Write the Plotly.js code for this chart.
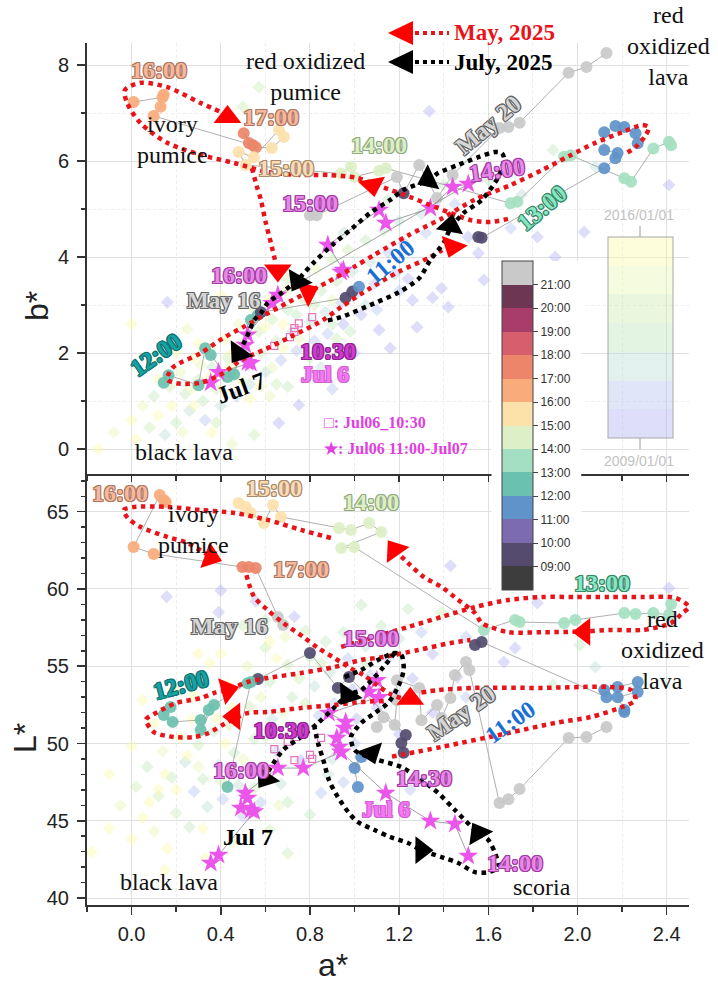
<!DOCTYPE html>
<html>
<head>
<meta charset="utf-8">
<script src="https://cdn.plot.ly/plotly-3.0.1.min.js"></script>
<style>
  html, body { margin: 0; padding: 0; background: #fff; }
  #chart { width: 718px; height: 986px; }
</style>
</head>
<body>
<div id="chart"></div>
<script>
// ---------- colour keys ----------
// hour-of-day bins 08:00 ... 22:00 (one colour per hour)
const hourColors = ['#3d3d3d','#544b6f','#7c6caf','#5f93c9','#6cc0af','#a5dfc1','#ddefc7',
                    '#fde1ab','#f9ab7b','#ec8569','#d65f6d','#a93d6a','#6d3653','#c9c9c9'];
const hourTicks  = [9,10,11,12,13,14,15,16,17,18,19,20,21];
const hourLabels = ['09:00','10:00','11:00','12:00','13:00','14:00','15:00','16:00','17:00','18:00','19:00','20:00','21:00'];
// archive survey dates 2009 ... 2016
const dateColors = ['rgba(182,182,246,0.45)','rgba(178,196,240,0.42)','rgba(186,222,214,0.42)',
                    'rgba(192,230,188,0.42)','rgba(206,236,178,0.42)','rgba(232,246,178,0.42)',
                    'rgba(250,250,172,0.42)'];

// ---------- archive measurements 2009-2016: [a*, b* or L*, decimal year] ----------
const archiveTop = [
 [-0.15,0.0,2015.5],[-0.08,0.35,2014.5],[0.0,0.6,2015.5],[0.02,0.2,2016.5],[0.05,0.9,2014.5],[0.08,0.45,2013.5],
 [0.1,1.1,2012.5],[0.12,0.7,2015.5],[0.15,0.3,2011.5],[0.17,1.3,2013.5],[0.18,0.9,2016.5],[0.2,0.55,2012.5],
 [0.22,1.6,2014.5],[0.24,1.15,2012.5],[0.26,0.8,2011.5],[0.28,1.9,2015.5],[0.3,1.45,2013.5],[0.32,1.0,2012.5],
 [0.33,0.6,2010.5],[0.35,2.1,2014.5],[0.36,1.7,2012.5],[0.38,1.25,2013.5],[0.4,0.9,2011.5],[0.42,2.3,2015.5],
 [0.43,1.9,2013.5],[0.45,1.5,2012.5],[0.47,1.1,2010.5],[0.48,2.6,2014.5],[0.5,2.2,2013.5],[0.52,1.75,2012.5],
 [0.53,1.35,2011.5],[0.55,2.9,2014.5],[0.57,2.45,2013.5],[0.58,2.0,2012.5],[0.6,1.6,2011.5],[0.62,3.1,2015.5],
 [0.63,2.7,2013.5],[0.65,2.25,2012.5],[0.66,0.54,2009.5],[0.67,1.85,2010.5],[0.69,3.3,2014.5],[0.7,2.9,2012.5],
 [0.72,2.45,2011.5],[0.74,2.05,2010.5],[0.75,0.92,2009.5],[0.76,3.5,2013.5],[0.78,3.1,2012.5],[0.8,2.65,2011.5],
 [0.82,2.25,2010.5],[0.83,3.75,2014.5],[0.85,3.3,2012.5],[0.87,2.85,2011.5],[0.88,2.4,2010.5],[0.9,3.95,2013.5],
 [0.92,3.5,2012.5],[0.94,3.05,2010.5],[0.95,2.6,2009.5],[0.97,4.15,2013.5],[0.99,3.7,2011.5],[1.01,3.25,2010.5],
 [1.03,2.8,2009.5],[1.05,4.35,2012.5],[1.07,3.9,2011.5],[1.09,3.45,2010.5],[1.11,2.48,2009.5],[1.13,4.55,2012.5],
 [1.15,4.1,2010.5],[1.16,2.1,2009.5],[1.18,3.65,2010.5],[1.2,4.75,2011.5],[1.22,4.3,2010.5],[1.26,3.1,2009.5],
 [1.28,2.54,2009.5],[1.3,4.9,2011.5],[1.32,4.5,2010.5],[1.35,3.15,2009.5],[1.39,3.35,2009.5],[1.42,2.96,2009.5],
 [1.45,5.1,2010.5],[1.51,4.42,2009.5],[1.555,4.08,2009.5],[1.58,3.52,2009.5],[1.82,4.42,2009.5],[2.03,4.52,2009.5],
 [1.335,7.04,2009.5],[2.41,5.5,2009.5],[1.89,6.23,2012.5],[2.08,5.88,2011.5],[1.6,5.6,2012.5],[1.75,5.3,2011.5],
 [0.16,3.06,2009.5],[0.0,2.6,2016.5],[0.3,2.2,2016.5],[0.1,1.8,2015.5],[0.55,0.3,2013.5],[0.45,0.1,2014.5],
 [0.7,1.3,2012.5],[0.85,1.7,2011.5],[1.0,2.0,2010.5],[0.57,7.54,2013.5],[0.5,7.13,2013.5],[0.82,4.9,2010.5],
 [0.95,4.5,2011.5],[1.4,5.5,2012.5],[1.7,4.6,2010.5],[1.9,4.0,2009.5],[0.9,1.25,2010.5],[0.4,3.2,2015.5],
 [0.25,2.5,2014.5],[1.15,5.2,2012.5],[0.62,1.1,2014.5],[0.36,0.35,2016.5],[0.9,3.1,2014.5],[0.68,2.6,2015.5],
 [0.27,1.25,2015.5],[0.35,1.5,2016.5],[0.44,1.7,2015.5],[0.5,1.4,2014.5],[0.58,1.3,2016.5],[0.63,1.7,2014.5],
 [0.68,2.1,2015.5],[0.75,2.3,2014.5],[0.8,1.9,2013.5],[0.86,2.05,2012.5],[0.92,2.3,2013.5],[0.98,2.45,2012.5],
 [0.6,2.55,2016.5],[0.45,2.0,2016.5],[0.38,0.55,2013.5],[0.23,0.35,2014.5],[0.12,1.45,2016.5],[0.2,2.0,2015.5],
 [0.7,3.55,2013.5],[0.82,3.0,2013.5],[1.05,3.0,2011.5],[1.1,2.9,2010.5],[0.9,2.6,2012.5],[0.65,1.35,2013.5],
 [0.53,1.05,2015.5],[0.31,1.75,2014.5],[0.28,0.9,2016.5],[0.74,2.8,2012.5],[1.2,3.3,2010.5],[1.24,3.55,2009.5]
];
const archiveBottom = [
 [-0.18,43.0,2016.5],[-0.1,44.5,2015.5],[-0.05,46.0,2014.5],[0.0,43.8,2016.5],[0.02,47.2,2013.5],[0.05,45.2,2015.5],
 [0.07,48.5,2012.5],[0.1,44.3,2014.5],[0.12,46.6,2013.5],[0.14,49.5,2014.5],[0.16,43.2,2015.5],[0.18,47.8,2012.5],
 [0.2,45.5,2013.5],[0.22,50.4,2015.5],[0.24,48.8,2011.5],[0.26,44.6,2012.5],[0.28,46.9,2010.5],[0.3,49.9,2013.5],
 [0.32,47.7,2012.5],[0.34,45.9,2011.5],[0.36,52.5,2014.5],[0.37,50.8,2012.5],[0.39,48.6,2011.5],[0.41,46.4,2010.5],
 [0.43,53.8,2015.5],[0.44,51.2,2013.5],[0.46,49.4,2012.5],[0.48,47.3,2011.5],[0.5,45.3,2010.5],[0.52,55.0,2014.5],
 [0.53,52.4,2013.5],[0.55,50.3,2012.5],[0.57,48.2,2011.5],[0.58,46.2,2010.5],[0.6,56.2,2013.5],[0.62,54.0,2012.5],
 [0.63,51.6,2011.5],[0.65,49.5,2010.5],[0.67,47.4,2011.5],[0.69,56.9,2014.5],[0.7,55.1,2013.5],[0.72,53.0,2012.5],
 [0.74,50.9,2010.5],[0.76,48.9,2009.5],[0.78,57.3,2013.5],[0.8,55.6,2012.5],[0.82,53.7,2011.5],[0.84,51.8,2010.5],
 [0.85,46.8,2010.5],[0.87,56.6,2012.5],[0.89,54.6,2011.5],[0.91,52.6,2010.5],[0.93,50.5,2009.5],[0.95,57.2,2012.5],
 [0.97,55.5,2010.5],[0.99,53.5,2009.5],[1.01,51.6,2009.5],[1.03,58.96,2012.5],[1.05,56.3,2011.5],[1.07,54.4,2010.5],
 [1.1,52.3,2009.5],[1.12,57.6,2012.5],[1.15,55.5,2010.5],[1.18,53.2,2009.5],[1.2,56.8,2011.5],[1.24,58.7,2012.5],
 [1.26,54.2,2009.5],[1.3,57.2,2010.5],[1.35,55.8,2009.5],[1.39,58.5,2013.5],[1.43,61.5,2009.5],[1.46,54.3,2009.5],
 [1.5,56.9,2010.5],[1.67,55.27,2009.5],[1.72,56.18,2009.5],[1.82,59.1,2009.5],[2.01,56.38,2012.5],[2.08,54.95,2011.5],
 [1.89,53.79,2012.5],[2.41,60.07,2009.5],[0.157,59.5,2009.5],[0.4,59.9,2009.5],[0.39,58.5,2009.5],[0.557,59.2,2009.5],
 [0.73,58.2,2009.5],[0.6,58.0,2012.5],[0.5,57.6,2013.5],[0.3,55.8,2015.5],[0.2,53.4,2016.5],[0.1,51.3,2015.5],
 [0.0,49.8,2016.5],[-0.1,48.0,2016.5],[0.45,43.6,2014.5],[0.62,44.4,2013.5],[0.8,45.4,2012.5],[0.95,47.5,2010.5],
 [1.05,49.2,2009.5],[1.2,50.6,2009.5],[0.33,42.6,2015.5],[0.15,41.8,2016.5],[0.7,42.9,2013.5],[1.1,45.8,2011.5],
 [1.25,47.0,2010.5],[0.25,53.9,2014.5],[0.58,53.0,2014.5],[0.35,55.2,2016.5],[0.9,49.0,2011.5],[0.05,52.8,2016.5],
 [1.35,52.0,2009.5],[1.5,53.0,2010.5],[0.27,51.6,2015.5],[0.12,47.0,2016.5],[0.66,46.0,2014.5],[0.42,50.0,2015.5],
 [0.2,47.0,2015.5],[0.3,48.5,2014.5],[0.4,47.6,2013.5],[0.5,49.0,2014.5],[0.6,50.4,2013.5],[0.45,52.3,2015.5],
 [0.55,54.2,2014.5],[0.68,52.0,2014.5],[0.75,54.2,2013.5],[0.85,55.2,2013.5],[0.65,55.5,2015.5],[0.38,51.6,2016.5],
 [0.25,49.2,2016.5],[0.15,48.0,2015.5],[0.08,46.2,2016.5],[0.32,44.5,2015.5],[0.55,47.1,2013.5],[0.7,46.2,2012.5],
 [0.88,48.0,2011.5],[1.0,50.0,2010.5],[0.78,52.6,2013.5],[0.96,53.0,2012.5],[1.05,55.2,2012.5],[0.62,56.6,2015.5],
 [0.4,55.8,2016.5],[0.28,53.1,2016.5]
];

// ---------- 2025 time-lapse series: [a*, b* or L*, hour]; null separates runs ----------
const seriesTop = [
 [0.009,7.23,16.5],[0.139,7.33,16.5],[0.144,7.38,16.5],[0.13,7.13,16.5],[0.099,6.94,16.5],
 [0.544,6.33,17.5],[0.503,6.58,17.5],[0.526,6.375,17.5],[0.557,6.29,17.5],
 [0.629,6.27,15.5],[0.683,6.5,15.5],[0.661,6.65,15.5],[0.548,6.08,15.5],[0.48,6.19,15.5],[0.512,5.92,15.5],
 [0.939,5.74,14.5],[0.984,5.88,14.5],[0.998,5.67,14.5],[1.11,5.8,14.5],[1.14,5.85,14.5],
 [1.70,5.12,13.5],[1.73,5.15,13.5],[1.94,6.09,13.5],[1.97,6.12,13.5],[2.21,5.64,13.5],[2.24,5.57,13.5],
 [2.34,6.26,13.5],[2.41,6.4,13.5],[2.42,6.33,13.5],
 null,
 [1.555,4.42,9.5],[1.57,4.40,9.5],[2.12,5.85,11.5],[2.17,6.06,11.5],[2.18,6.17,11.5],[2.12,6.23,11.5],
 [2.12,6.6,11.5],[2.17,6.73,11.5],[2.21,6.71,11.5],[2.26,6.58,11.5],[2.27,6.37,11.5],
 null,
 [0.80,4.87,21.5],[0.83,4.87,21.5],[1.19,5.67,21.5],[1.22,5.33,9.5],[1.29,5.92,21.5],[1.37,5.23,21.5],
 [1.44,5.71,21.5],[1.65,6.69,21.5],[1.69,6.71,21.5],[1.74,6.80,21.5],[1.96,7.84,21.5],[2.04,7.96,21.5],[2.13,8.25,21.5],
 null,
 [0.144,1.38,12.5],[0.166,1.54,12.5],[0.30,1.33,12.5],[0.33,2.10,12.5],[0.355,1.96,12.5],[0.43,1.50,12.5],
 [0.46,1.56,12.5],[0.535,2.69,12.5],[0.566,2.79,12.5],[0.58,2.85,9.5],[0.96,3.15,9.5],[0.99,3.28,9.5],[1.02,3.38,11.5]
];
const seriesBottom = [
 [0.153,65.63,16.5],[0.144,65.76,16.5],[0.126,66.08,16.5],[0.009,62.72,16.5],[0.099,62.27,16.5],
 [0.497,61.42,17.5],[0.526,61.42,17.5],[0.557,61.36,17.5],[0.656,58.19,21.5],[0.68,57.67,21.5],
 null,
 [0.48,65.57,15.5],[0.512,65.31,15.5],[0.535,64.92,15.5],[0.593,64.27,15.5],[0.634,65.44,15.5],[0.67,64.66,15.5],
 [0.93,63.95,14.5],[0.984,63.82,14.5],[1.065,64.27,14.5],[1.12,63.69,14.5],[0.94,62.65,14.5],[0.998,62.72,14.5],
 [1.58,57.35,13.5],[1.72,58.0,13.5],[1.74,57.86,13.5],[1.94,57.8,13.5],[1.99,58.0,13.5],[2.21,58.44,13.5],
 [2.26,58.38,13.5],[2.34,58.44,13.5],[2.41,58.33,13.5],[2.42,59.03,13.5],
 null,
 [1.54,56.38,9.5],[1.57,56.57,9.5],[2.13,53.0,11.5],[2.12,53.46,11.5],[2.18,53.66,11.5],[2.27,53.98,11.5],
 [2.27,53.33,11.5],[2.18,53.0,11.5],[2.21,52.17,11.5],[2.21,52.04,11.5],
 null,
 [1.10,51.07,21.5],[1.13,51.7,21.5],[1.18,51.2,21.5],[1.19,52.8,21.5],[1.19,54.1,21.5],[1.29,53.6,21.5],
 [1.30,51.5,21.5],[1.37,52.49,21.5],[1.39,51.65,21.5],[1.43,52.94,21.5],[1.45,54.43,21.5],[1.50,55.27,21.5],
 [1.515,54.76,21.5],[1.65,46.15,21.5],[1.69,46.4,21.5],[1.74,47.05,21.5],[1.96,50.36,21.5],[2.04,50.42,21.5],[2.13,51.07,21.5],
 null,
 [0.567,54.17,9.5],[0.80,55.86,9.5],[0.925,53.6,9.5],[0.975,54.3,9.5],[1.23,50.55,9.5],[1.21,50.03,9.5],[1.22,49.4,9.5],
 null,
 [0.175,52.36,12.5],[0.144,51.84,12.5],[0.184,51.4,12.5],[0.31,51.52,12.5],[0.346,52.17,12.5],[0.31,50.87,12.5],
 [0.37,52.5,12.5],[0.52,53.9,12.5],[0.535,53.98,12.5],[0.43,47.18,12.5],
 null,
 [1.03,49.13,11.5],[1.0,48.41,11.5],[1.015,47.18,11.5]
];

// Jul06 11:00 - Jul07 (stars) and Jul06 10:30 (open squares)
const starsTop = [[0.94,3.69],[0.95,3.73],[0.88,4.25],[1.11,4.98],[1.14,4.71],[1.34,5.02],[1.44,5.46],[1.51,5.52],
                  [0.656,3.21],[0.63,3.04],[0.52,2.38],[0.51,2.17],[0.52,1.81],[0.535,1.79],[0.39,1.6],[0.355,1.38]];
const squaresTop = [[0.64,2.15],[0.71,2.33],[0.73,2.44],[0.73,2.52],[0.75,2.62],[0.81,2.75]];
const starsBottom = [[1.10,54.1],[1.065,53.33],[1.11,53.0],[0.885,51.97],[0.96,51.39],[0.955,51.0],[0.92,50.36],
                     [0.93,49.78],[0.94,49.45],[0.77,48.41],[0.656,48.41],[0.51,46.8],[0.52,46.47],[0.49,45.83],
                     [0.535,45.7],[0.55,45.6],[0.39,42.78],[0.355,42.27],null,
                     [0.94,49.45],[1.14,46.8],[1.34,44.98],[1.45,44.79],[1.51,42.72]];
const squaresBottom = [[0.64,49.64],[0.70,50.1],[0.73,48.93],[0.737,50.42],[0.80,49.26],[0.81,49.0],[0.85,50.36]];

// ---------- hand-drawn trajectory guides (May: red, July: black) ----------
const mayPathTop = [
 [0.43,6.96],[0.31,7.21],[0.16,7.54],[0.04,7.63],[-0.03,7.48],[-0.02,7.21],[0.04,6.79],[0.16,6.38],[0.31,6.13],
 [0.46,5.96],[0.61,5.77],[0.76,5.71],[0.885,5.71],[1.01,5.65],[1.10,5.5],[1.25,5.25],[1.34,5.08],[1.43,4.92],
 [1.52,4.77],[1.61,4.73],[1.70,4.81],null,
 [0.54,5.85],[0.56,5.5],[0.58,5.19],[0.60,4.75],[0.625,4.29],[0.645,3.9],null,
 [1.43,4.25],[1.34,4.0],[1.2,3.7],[1.07,3.35],[0.94,2.96],[0.86,2.69],[0.71,2.33],[0.59,2.06],[0.49,1.85],
 [0.41,1.58],[0.31,1.38],[0.2,1.37],[0.16,1.45],[0.17,1.6],[0.19,1.72],[0.31,2.0],[0.41,2.31],[0.50,2.54],
 [0.60,2.8],[0.70,3.05],[0.79,3.27],[0.88,3.48],[1.0,3.8],[1.09,4.05],[1.24,4.45],[1.39,4.8],[1.54,5.2],
 [1.70,5.5],[1.84,5.81],[1.96,6.1],[2.08,6.38],[2.2,6.6],[2.29,6.75],[2.32,6.7],[2.30,6.5],[2.26,6.29],[2.22,6.17]
];
const julyPathTop = [
 [0.88,2.68],[0.94,2.75],[1.09,3.04],[1.2,3.27],[1.29,3.56],[1.34,3.94],[1.40,4.3],[1.43,4.6],[1.49,4.92],
 [1.57,5.19],[1.645,5.67],[1.67,6.06],[1.66,6.17],[1.63,6.19],[1.555,6.08],[1.465,5.92],[1.375,5.75],[1.33,5.6],
 [1.22,5.4],[1.16,5.19],[1.07,4.92],[0.99,4.6],[0.90,4.25],[0.82,3.9],[0.77,3.65],[0.745,3.52],[0.68,3.28],
 [0.61,3.04],[0.58,2.83],[0.55,2.69],[0.53,2.48],[0.51,2.27],[0.48,2.0]
];
const mayPathBottom = [
 [0.894,63.3],[0.76,63.82],[0.61,64.47],[0.46,64.92],[0.31,65.11],[0.16,65.31],[0.01,65.31],[-0.036,65.11],
 [-0.018,64.6],[0.04,64.01],[0.16,63.37],[0.25,62.98],[0.355,62.07],null,
 [0.515,60.9],[0.55,59.48],[0.61,58.64],[0.68,57.8],[0.77,56.9],[0.836,56.18],[0.91,55.53],[0.98,54.89],
 [1.04,54.43],[1.10,53.79],[1.16,53.2],[1.22,52.9],null,
 [1.30,53.3],[1.375,53.46],[1.54,53.6],[1.84,53.6],[2.14,53.66],[2.24,53.46],[2.26,52.82],[2.20,52.36],
 [2.06,51.72],[1.90,51.33],[1.69,50.68],[1.39,49.78],[1.16,49.13],null,
 [1.13,52.75],[1.03,52.69],[0.91,52.49],[0.76,52.3],[0.61,52.04],[0.52,51.97],[0.42,51.3],[0.346,50.68],
 [0.28,50.42],[0.19,50.42],[0.10,50.74],[0.063,51.52],[0.07,51.65],[0.117,52.04],[0.2,52.62],[0.31,52.94],
 [0.37,53.27],[0.43,53.46],[0.52,53.98],[0.61,54.24],[0.76,54.56],[0.91,54.95],[1.03,55.4],[1.13,55.6],
 [1.285,56.05],[1.43,56.5],[1.52,56.7],null,
 [0.94,56.25],[1.09,56.9],[1.24,57.54],[1.39,58.19],[1.54,58.83],[1.69,59.29],[1.84,59.48],[1.99,59.48],
 [2.14,59.48],[2.29,59.48],[2.44,59.42],[2.50,58.83],[2.47,58.44],[2.42,57.8],[2.29,57.35],[2.14,57.35],
 [2.03,57.25],[1.84,57.2],[1.69,57.2],[1.61,57.54],[1.57,57.8],[1.54,58.44],[1.465,59.29],[1.39,60.13],
 [1.31,60.78],[1.24,61.68],[1.18,62.52]
];
const julyPathBottom = [
 [1.18,55.86],[1.13,54.95],[1.09,54.3],[1.03,53.46],[0.97,53.14],[0.90,52.2],[0.836,51.33],[0.76,50.42],
 [0.68,49.58],[0.625,48.48],[0.6,47.9],null,
 [0.955,54.3],[1.03,54.76],[1.105,55.4],[1.18,55.86],[1.21,55.73],[1.22,54.76],[1.195,53.66],[1.15,52.62],
 [1.09,51.97],[1.03,51.33],[0.984,50.42],[1.0,49.58],[1.05,49.2],[1.105,48.93],[1.21,48.48],[1.30,47.64],
 [1.375,46.8],[1.45,45.7],[1.555,44.2],[1.60,43.75],[1.63,42.91],[1.645,42.0],[1.60,41.68],[1.54,41.68],
 [1.465,42.27],[1.40,42.6],[1.30,43.1],[1.24,43.56],[1.16,43.95],[1.09,44.4],[1.015,44.92],[0.975,45.5],
 [0.925,46.54],[0.885,47.64],[0.86,48.93],[0.836,50.03],[0.82,51.07]
];
// arrowheads: [a*, b* or L*, symbol, rotation]
const mayArrowsTop = [[0.43,6.92,'triangle-up',0],[1.08,5.5,'triangle-down',-10],[0.656,3.72,'triangle-down',0],
                      [0.79,3.27,'triangle-right',-25],[1.44,4.22,'triangle-down',20]];
const julyArrowsTop = [[1.33,5.62,'triangle-left',-25],[1.43,4.65,'triangle-up',10],[0.745,3.5,'triangle-down',30],
                       [0.48,2.0,'triangle-down',35]];
const mayArrowsBottom = [[0.355,62.07,'triangle-right',20],[1.18,62.52,'triangle-up',-35],[2.03,57.22,'triangle-left',0],
                         [1.25,52.9,'triangle-up',0],[0.43,53.46,'triangle-right',-15],[0.46,51.75,'triangle-left',0]];
const julyArrowsBottom = [[0.97,53.14,'triangle-down',35],[0.6,47.75,'triangle-down',35],[1.074,49.39,'triangle-down',-20],
                          [1.30,43.1,'triangle-right',0],[1.555,44.2,'triangle-up',-30]];

// ---------- helpers ----------
const col = (arr, i) => arr.map(p => (p ? p[i] : null));
const SERIF = 'Liberation Serif, Times New Roman, serif';
const SANS = 'Liberation Sans, Arial, sans-serif';

function stepScale(colors) {
  const n = colors.length, out = [];
  colors.forEach((c, i) => { out.push([i / n, c]); out.push([(i + 1) / n, c]); });
  return out;
}

const traces = [];
function addPanel(xa, ya, archive, series, stars, squares, mayPath, julyPath, mayArrows, julyArrows) {
  traces.push({
    type: 'scatter', mode: 'markers', xaxis: xa, yaxis: ya, hoverinfo: 'skip',
    x: col(archive, 0), y: col(archive, 1),
    marker: { symbol: 'diamond', size: 10, color: col(archive, 2), coloraxis: 'coloraxis2', line: { width: 0 } }
  });
  traces.push({
    type: 'scatter', mode: 'lines+markers', xaxis: xa, yaxis: ya, hoverinfo: 'skip',
    x: col(series, 0), y: col(series, 1),
    line: { color: '#9a9a9a', width: 0.8 },
    marker: { symbol: 'circle', size: 12, opacity: 0.92, color: col(series, 2), coloraxis: 'coloraxis', line: { width: 0 } }
  });
  traces.push({
    type: 'scatter', mode: 'lines+markers', xaxis: xa, yaxis: ya, hoverinfo: 'skip',
    x: col(stars, 0), y: col(stars, 1),
    line: { color: '#8a8a8a', width: 0.8 },
    marker: { symbol: 'star', size: 15, color: '#ec55ec', line: { width: 0 } }
  });
  traces.push({
    type: 'scatter', mode: 'markers', xaxis: xa, yaxis: ya, hoverinfo: 'skip',
    x: col(squares, 0), y: col(squares, 1),
    marker: { symbol: 'square-open', size: 7, color: '#e476bd', line: { width: 1.2 } }
  });
  [[mayPath, '#e8141a'], [julyPath, '#000000']].forEach(([p, c]) => traces.push({
    type: 'scatter', mode: 'lines', xaxis: xa, yaxis: ya, hoverinfo: 'skip',
    x: col(p, 0), y: col(p, 1),
    line: { color: c, width: 4.5, dash: 'dot', shape: 'spline', smoothing: 0.8 }
  }));
  [[mayArrows, '#ff0000'], [julyArrows, '#000000']].forEach(([p, c]) => traces.push({
    type: 'scatter', mode: 'markers', xaxis: xa, yaxis: ya, hoverinfo: 'skip',
    x: col(p, 0), y: col(p, 1),
    marker: { symbol: col(p, 2), angle: col(p, 3), size: 24, color: c, line: { width: 0 } }
  }));
}
addPanel('x2', 'y2', archiveTop, seriesTop, starsTop, squaresTop, mayPathTop, julyPathTop, mayArrowsTop, julyArrowsTop);
addPanel('x', 'y', archiveBottom, seriesBottom, starsBottom, squaresBottom, mayPathBottom, julyPathBottom, mayArrowsBottom, julyArrowsBottom);

// ---------- text ----------
const STY = {
  salmon:  ['#f7b99e', '#ad785f'],
  cream:   ['#fbdcb6', '#a88a6c'],
  mint:    ['#dcefc6', '#93aa7e'],
  aqua:    ['#8ae6c2', '#358768'],
  teal:    ['#17a3a3', '#0f7272'],
  blue:    ['#1a6fd4', '#1a6fd4'],
  magenta: ['#e68ae6', '#a23aa2'],
  grape:   ['#cf3ccf', '#8c228c'],
  pink:    ['#f27af2', '#d45fd4'],
  gray:    ['#d6d6d6', '#666666'],
  black:   ['#000000', '#000000']
};
const outline = c => `${c} 1px 0px 0px, ${c} -1px 0px 0px, ${c} 0px 1px 0px, ${c} 0px -1px 0px, ${c} 1px 1px 0px, ${c} -1px -1px 0px, ${c} 1px -1px 0px, ${c} -1px 1px 0px`;

// [text, a*, b*/L*, style, angle, size]
const timeLabelsTop = [
  ['16:00', 0.121, 7.90, 'salmon', 0, 24], ['17:00', 0.625, 6.92, 'salmon', 0, 24],
  ['15:00', 0.692, 5.85, 'cream', 0, 24], ['14:00', 1.11, 6.33, 'mint', 0, 24],
  ['15:00', 0.80, 5.13, 'magenta', 0, 24], ['16:00', 0.48, 3.62, 'magenta', 0, 24],
  ['May 16', 0.41, 3.10, 'gray', 0, 23], ['May 20', 1.60, 6.75, 'gray', -40, 24],
  ['14:00', 1.64, 5.81, 'magenta', -8, 24], ['13:00', 1.84, 5.02, 'aqua', -40, 24],
  ['11:00', 1.16, 3.90, 'blue', -40, 24], ['12:00', 0.108, 1.96, 'teal', -35, 24],
  ['10:30', 0.88, 2.04, 'grape', 0, 24], ['Jul 6', 0.867, 1.55, 'pink', 0, 23],
  ['Jul 7', 0.49, 1.27, 'black', -20, 24]
];
const timeLabelsBottom = [
  ['16:00', -0.05, 66.21, 'salmon', 0, 24], ['15:00', 0.638, 66.54, 'cream', 0, 24],
  ['14:00', 1.074, 65.63, 'mint', 0, 24], ['17:00', 0.76, 61.29, 'salmon', 0, 24],
  ['May 16', 0.44, 57.6, 'gray', 0, 24], ['13:00', 2.11, 60.39, 'aqua', 0, 24],
  ['12:00', 0.22, 53.79, 'teal', -15, 24], ['15:00', 1.074, 56.83, 'magenta', 0, 24],
  ['10:30', 0.67, 50.87, 'grape', 0, 24], ['May 20', 1.48, 51.97, 'gray', -35, 24],
  ['11:00', 1.70, 51.39, 'blue', -35, 24], ['16:00', 0.49, 48.28, 'magenta', 0, 24],
  ['14:30', 1.31, 47.77, 'magenta', 0, 24], ['Jul 6', 1.14, 45.7, 'pink', 0, 23],
  ['Jul 7', 0.52, 43.95, 'black', 0, 24], ['14:00', 1.72, 42.27, 'magenta', 0, 24]
];
const placeLabelsTop = [
  ['red oxidized<br>pumice', 0.78, 7.77], ['ivory<br>pumice', 0.184, 6.44],
  ['black lava', 0.234, -0.06], ['red<br>oxidized<br>lava', 2.41, 8.40]
];
const placeLabelsBottom = [
  ['ivory<br>pumice', 0.279, 63.82], ['red<br>oxidized<br>lava', 2.38, 56.05],
  ['scoria', 1.84, 40.71], ['black lava', 0.166, 41.04]
];

const annotations = [];
[[timeLabelsTop, 'x2', 'y2'], [timeLabelsBottom, 'x', 'y']].forEach(([list, xr, yr]) => list.forEach(([t, x, y, s, ang, sz]) => {
  annotations.push({
    text: '<b>' + t + '</b>', x, y, xref: xr, yref: yr, showarrow: false, textangle: ang,
    xanchor: 'center', yanchor: 'middle',
    font: { family: SERIF, size: sz, color: STY[s][0], shadow: s === 'black' || s === 'blue' ? 'none' : outline(STY[s][1]) }
  });
}));
[[placeLabelsTop, 'x2', 'y2'], [placeLabelsBottom, 'x', 'y']].forEach(([list, xr, yr]) => list.forEach(([t, x, y]) => {
  annotations.push({
    text: t, x, y, xref: xr, yref: yr, showarrow: false, align: 'center',
    xanchor: 'center', yanchor: 'middle',
    font: { family: SERIF, size: 24, color: '#111' }
  });
}));

// paper-space placement (pixels converted against the 602 x 862 plot area)
const PX = px => (px - 87) / 602;
const PY = py => (905 - py) / 862;
const paperText = [
  ['<b>May, 2025</b>', 452, 33, '#e8141a', 23, 'left', SERIF],
  ['<b>July, 2025</b>', 452, 62, '#000000', 23, 'left', SERIF],
  ['<b>□: Jul06_10:30</b>', 322, 422, '#e040e0', 16, 'left', SERIF],
  ['<b>★: Jul06 11:00-Jul07</b>', 322, 449, '#e040e0', 16, 'left', SERIF],
  ['2016/01/01', 639, 215, '#c2c2c2', 14, 'center', SANS],
  ['2009/01/01', 639, 461, '#c2c2c2', 14, 'center', SANS]
];
paperText.forEach(([t, px, py, c, sz, xa, fam]) => annotations.push({
  text: t, x: PX(px), y: PY(py), xref: 'paper', yref: 'paper', xanchor: xa, yanchor: 'middle',
  showarrow: false, font: { family: fam, size: sz, color: c }
}));
// axis titles
[['b*', 37, 306, -90], ['L*', 25, 738, -90], ['a*', 333, 965, 0]].forEach(([t, px, py, ang]) => annotations.push({
  text: t, x: PX(px), y: PY(py), xref: 'paper', yref: 'paper', xanchor: 'center', yanchor: 'middle',
  showarrow: false, textangle: ang, font: { family: SANS, size: 32, color: '#222' }
}));

// legend swatches and the date-bar whiskers
const shapes = [
  { type: 'path', xref: 'paper', yref: 'paper', fillcolor: '#ff0000', line: { width: 0 },
    path: `M${PX(388)},${PY(33)} L${PX(413)},${PY(21)} L${PX(413)},${PY(45)} Z` },
  { type: 'line', xref: 'paper', yref: 'paper', x0: PX(415), x1: PX(449), y0: PY(33), y1: PY(33),
    line: { color: '#e8141a', width: 4, dash: 'dot' } },
  { type: 'path', xref: 'paper', yref: 'paper', fillcolor: '#000000', line: { width: 0 },
    path: `M${PX(388)},${PY(62)} L${PX(413)},${PY(50)} L${PX(413)},${PY(74)} Z` },
  { type: 'line', xref: 'paper', yref: 'paper', x0: PX(415), x1: PX(449), y0: PY(62), y1: PY(62),
    line: { color: '#000000', width: 4, dash: 'dot' } },
  { type: 'line', xref: 'paper', yref: 'paper', x0: PX(640), x1: PX(640), y0: PY(226), y1: PY(237),
    line: { color: '#9a9a9a', width: 1 } },
  { type: 'line', xref: 'paper', yref: 'paper', x0: PX(640), x1: PX(640), y0: PY(438), y1: PY(449),
    line: { color: '#9a9a9a', width: 1 } }
];

const xCommon = {
  range: [-0.2, 2.5], dtick: 0.4, tick0: 0, tickformat: '.1f', zeroline: false,
  showline: true, linecolor: '#333', linewidth: 2, ticks: 'outside', ticklen: 8, tickwidth: 1.5, tickcolor: '#333',
  showgrid: true, gridcolor: '#e0e0e0', gridwidth: 1,
  minor: { dtick: 0.2, ticks: 'outside', ticklen: 5, tickcolor: '#333', showgrid: true, gridcolor: '#ececec', griddash: 'dot' },
  tickfont: { family: SANS, size: 20, color: '#222' }
};
const yCommon = {
  zeroline: false, showline: true, linecolor: '#333', linewidth: 2, ticks: 'outside', ticklen: 8, tickwidth: 1.5,
  tickcolor: '#333', showgrid: true, gridcolor: '#e0e0e0', gridwidth: 1, ticklabelstandoff: 4,
  tickfont: { family: SANS, size: 20, color: '#222' }
};

const layout = {
  width: 718, height: 986, margin: { l: 87, r: 29, t: 43, b: 81 },
  paper_bgcolor: '#fff', plot_bgcolor: 'rgba(0,0,0,0)', showlegend: false,
  xaxis: Object.assign({}, xCommon, { domain: [0, 1], anchor: 'y', ticklabelstandoff: 2 }),
  yaxis: Object.assign({}, yCommon, { domain: [0, 0.5], range: [39.55, 67.44], dtick: 5, tick0: 40,
    minor: { dtick: 1, ticks: 'outside', ticklen: 4, tickcolor: '#333' } }),
  xaxis2: Object.assign({}, xCommon, { domain: [0, 1], anchor: 'y2', showticklabels: false, ticklen: 6 }),
  yaxis2: Object.assign({}, yCommon, { domain: [0.5, 1], range: [-0.52, 8.46], dtick: 2, tick0: 0,
    minor: { dtick: 1, ticks: 'outside', ticklen: 4, tickcolor: '#333', showgrid: true, gridcolor: '#ececec', griddash: 'dot' } }),
  coloraxis: {
    cmin: 8, cmax: 22, colorscale: stepScale(hourColors), showscale: true,
    colorbar: {
      x: PX(492), xanchor: 'left', xpad: 10, y: PY(425.5), yanchor: 'middle', ypad: 0,
      len: 329, lenmode: 'pixels', thickness: 31, thicknessmode: 'pixels',
      tickmode: 'array', tickvals: hourTicks, ticktext: hourLabels, ticks: 'outside', ticklen: 5, tickcolor: '#444',
      tickfont: { family: SANS, size: 12, color: '#333' }, outlinecolor: '#444', outlinewidth: 1,
      bgcolor: '#ffffff', borderwidth: 0
    }
  },
  coloraxis2: {
    cmin: 2009, cmax: 2016, colorscale: stepScale(dateColors), showscale: true,
    colorbar: {
      x: PX(608), xanchor: 'left', xpad: 0, y: PY(337.5), yanchor: 'middle', ypad: 0,
      len: 201, lenmode: 'pixels', thickness: 65, thicknessmode: 'pixels',
      showticklabels: false, ticks: '', outlinecolor: '#a8a8a8', outlinewidth: 1,
      bgcolor: 'rgba(0,0,0,0)', borderwidth: 0
    }
  },
  annotations, shapes
};

Plotly.newPlot('chart', traces, layout, { staticPlot: true, displayModeBar: false });
</script>
</body>
</html>
